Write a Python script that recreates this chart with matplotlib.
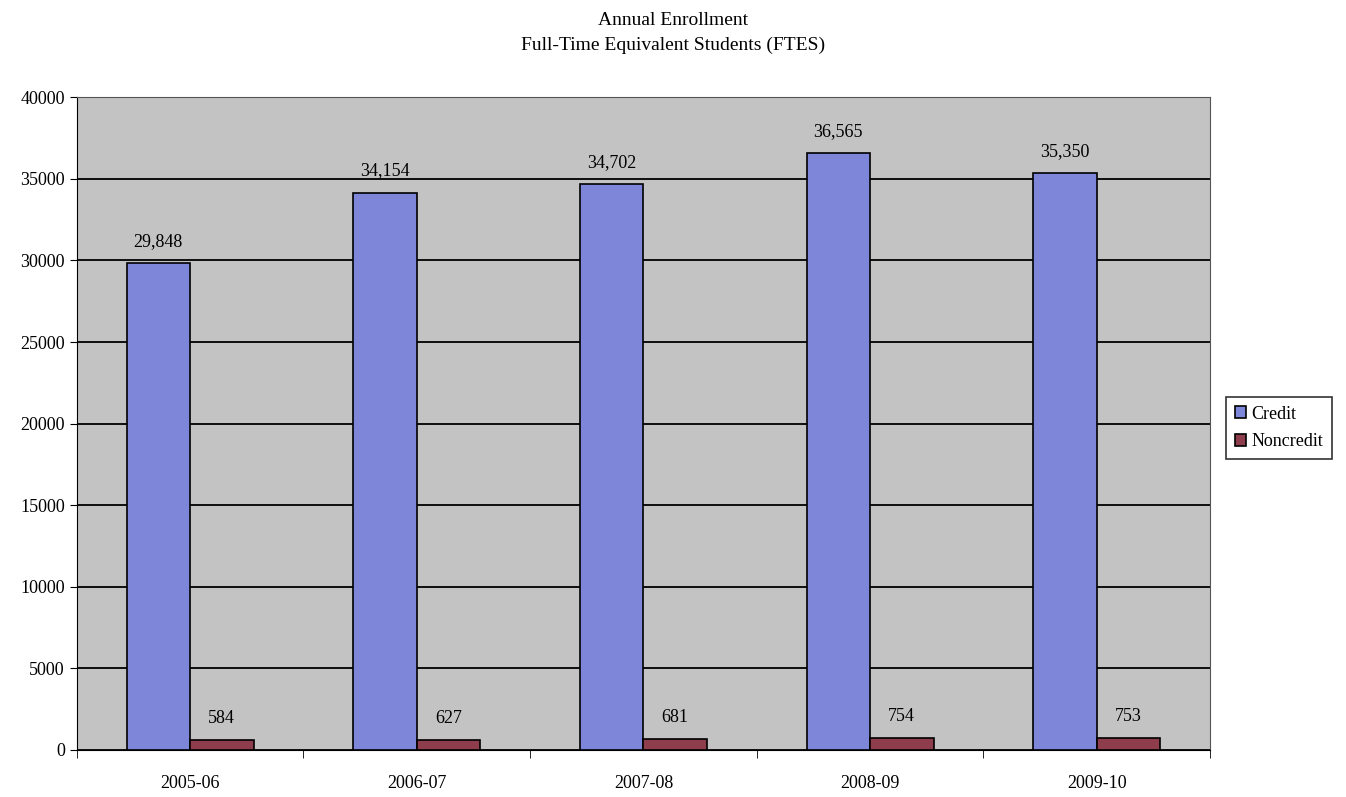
import numpy as np
import matplotlib.pyplot as plt

plt.rcParams['font.family'] = ['Liberation Serif', 'DejaVu Serif']

years = ['2005-06', '2006-07', '2007-08', '2008-09', '2009-10']
credit = [29848, 34154, 34702, 36565, 35350]
noncredit = [584, 627, 681, 754, 753]

fig = plt.figure(figsize=(13.46, 7.97), dpi=100)
ax = fig.add_axes([0.057, 0.059, 0.842, 0.819])
ax.set_facecolor('#c3c3c3')

x = np.arange(len(years))
w = 0.28
b1 = ax.bar(x - w / 2, credit, width=w, color='#7d86d8', edgecolor='black',
            linewidth=1.2, label='Credit', zorder=3)
b2 = ax.bar(x + w / 2, noncredit, width=w, color='#8e3d4c', edgecolor='black',
            linewidth=1.2, label='Noncredit', zorder=3)

for bars, vals in ((b1, credit), (b2, noncredit)):
    for r, v in zip(bars, vals):
        ax.text(r.get_x() + r.get_width() / 2, v + 800, f'{v:,}',
                ha='center', va='bottom', fontsize=13)

ax.set_xlim(-0.5, len(years) - 0.5)
ax.set_ylim(0, 40000)
ax.set_yticks(range(0, 40001, 5000))
ax.yaxis.grid(True, color='black', linewidth=1.3, zorder=0)
ax.set_axisbelow(True)

# category labels centred, tick marks on the boundaries
ax.set_xticks(x)
ax.set_xticklabels(years, fontsize=13)
ax.tick_params(axis='x', length=0, pad=18)
ax.set_xticks(np.arange(-0.5, len(years)), minor=True)
ax.tick_params(axis='x', which='minor', length=6, direction='out')
ax.tick_params(axis='y', labelsize=13, length=5)

for s in ax.spines.values():
    s.set_color('#555555')
ax.spines['left'].set_color('black')
ax.spines['bottom'].set_color('black')

fig.suptitle('Annual Enrollment\nFull-Time Equivalent Students (FTES)',
             y=0.985, fontsize=14, linespacing=1.6)

leg = fig.legend(loc='center left', bbox_to_anchor=(0.911, 0.463),
                 fontsize=13, frameon=True, fancybox=False,
                 handlelength=0.6, handleheight=0.6, handletextpad=0.3,
                 borderpad=0.5, labelspacing=0.6, borderaxespad=0)
leg.get_frame().set_edgecolor('black')
leg.get_frame().set_linewidth(1.2)

fig.savefig('out.png', dpi=100)
